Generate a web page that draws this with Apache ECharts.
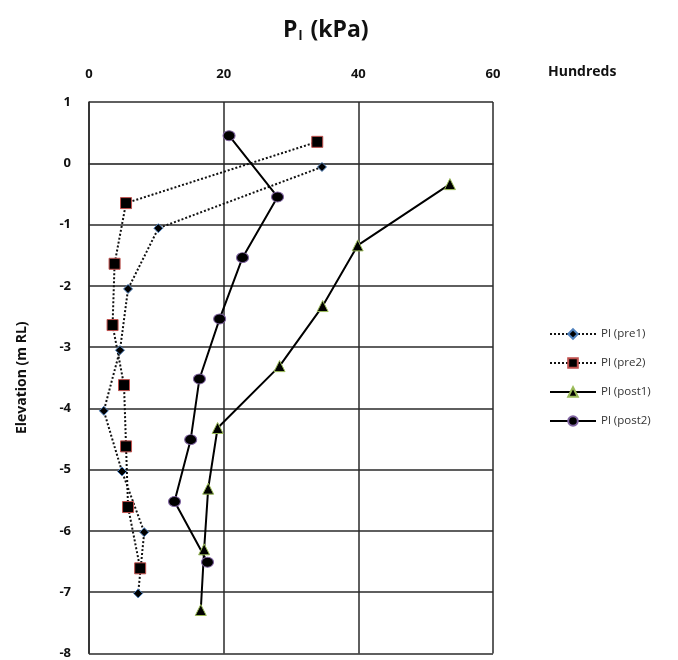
<html>
<head>
    <meta http-equiv="Content-Type" content="text/html; charset=utf-8" />
    <script type="text/javascript" src="https://cdn.jsdelivr.net/npm/echarts@6/dist/echarts.min.js"></script>
</head>
<body style="margin:0;background:#fff">
<div id="main" style="width: 678px;height:660px;"></div>
<script type="text/javascript">
    // values in hundreds of kPa, elevation in m RL
    var pre1Pl   = [34.6, 10.3, 5.8, 4.6, 2.2, 4.9, 8.2, 7.3];
    var pre1Elev = [-0.06, -1.06, -2.05, -3.05, -4.04, -5.03, -6.02, -7.02];
    var pre2Pl   = [33.9, 5.5, 3.8, 3.5, 5.2, 5.5, 5.8, 7.6];
    var pre2Elev = [0.35, -0.65, -1.64, -2.64, -3.62, -4.62, -5.61, -6.61];
    var post1Pl   = [53.6, 39.9, 34.7, 28.3, 19.1, 17.7, 17.1, 16.6];
    var post1Elev = [-0.34, -1.34, -2.33, -3.31, -4.32, -5.31, -6.3, -7.29];
    var post2Pl   = [20.8, 28.0, 22.8, 19.4, 16.4, 15.1, 12.7, 17.6];
    var post2Elev = [0.45, -0.55, -1.54, -2.54, -3.52, -4.51, -5.52, -6.51];

    function pairs(xs, ys) {
        var out = [];
        for (var i = 0; i < xs.length; i++) {
            out.push([xs[i], ys[i]]);
        }
        return out;
    }

    var gridCol = '#2a2a2a';
    // split line colours from -8 up to 1, the zero line is grey
    var yLineCols = [gridCol, gridCol, gridCol, gridCol, gridCol, gridCol, gridCol, gridCol, '#b0b0b0', gridCol];

    var font = '"Open Sans", "Liberation Sans", sans-serif';

    var myChart = echarts.init(document.getElementById('main'));
    var option = {
        animation: false,
        title: {
            text: '{p|P}{s|l}{p| (kPa)}',
            left: 278,
            top: 12,
            textStyle: {
                rich: {
                    p: {fontFamily: font, fontWeight: 'bold', fontSize: 23, color: '#111'},
                    s: {fontFamily: font, fontWeight: 'bold', fontSize: 13, color: '#111', padding: [13, 2, 0, 1]}
                }
            }
        },
        // axis unit, sits level with the top tick labels
        graphic: [{
            type: 'text',
            left: 548,
            top: 65,
            style: {text: 'Hundreds', font: 'bold 14px ' + font, fill: '#111'}
        }],
        grid: {left: 89, right: 185, top: 102, bottom: -2},
        legend: {
            orient: 'vertical',
            left: 544,
            top: 323,
            itemWidth: 46,
            itemHeight: 12,
            itemGap: 17,
            textStyle: {fontFamily: font, fontSize: 11.5, color: '#333'},
            data: ['Pl (pre1)', 'Pl (pre2)', 'Pl (post1)', 'Pl (post2)']
        },
        xAxis: {
            type: 'value',
            position: 'top',
            min: 0,
            max: 60,
            interval: 20,
            axisLine: {show: true, lineStyle: {color: gridCol, width: 1.5}},
            axisTick: {show: false},
            axisLabel: {fontFamily: font, fontWeight: 'bold', fontSize: 13, color: '#111', margin: 21},
            splitLine: {show: true, lineStyle: {color: gridCol, width: 1.5}}
        },
        yAxis: {
            type: 'value',
            min: -8,
            max: 1,
            interval: 1,
            name: 'Elevation (m RL)',
            nameLocation: 'middle',
            nameGap: 60,
            nameTextStyle: {fontFamily: font, fontWeight: 'bold', fontSize: 14, color: '#111'},
            axisLine: {show: true, lineStyle: {color: gridCol, width: 1.5}},
            axisTick: {show: false},
            axisLabel: {fontFamily: font, fontWeight: 'bold', fontSize: 13, color: '#111', margin: 18},
            splitLine: {show: true, lineStyle: {color: yLineCols, width: 1.5}}
        },
        series: [
            {
                name: 'Pl (pre1)',
                type: 'line',
                data: pairs(pre1Pl, pre1Elev),
                symbol: 'diamond',
                symbolSize: 9,
                lineStyle: {color: '#111', width: 2, type: 'dotted'},
                itemStyle: {color: '#000', borderColor: '#4f81bd', borderWidth: 1}
            },
            {
                name: 'Pl (pre2)',
                type: 'line',
                data: pairs(pre2Pl, pre2Elev),
                symbol: 'rect',
                symbolSize: 11,
                lineStyle: {color: '#111', width: 2, type: 'dotted'},
                itemStyle: {color: '#000', borderColor: '#c0504d', borderWidth: 1}
            },
            {
                name: 'Pl (post1)',
                type: 'line',
                data: pairs(post1Pl, post1Elev),
                symbol: 'triangle',
                symbolSize: 11,
                lineStyle: {color: '#000', width: 2},
                itemStyle: {color: '#000', borderColor: '#9bbb59', borderWidth: 1}
            },
            {
                name: 'Pl (post2)',
                type: 'line',
                data: pairs(post2Pl, post2Elev),
                symbol: 'circle',
                symbolSize: [12, 10],
                lineStyle: {color: '#000', width: 2},
                itemStyle: {color: '#000', borderColor: '#8064a2', borderWidth: 1}
            }
        ]
    };
    myChart.setOption(option);
</script>
</body>
</html>
